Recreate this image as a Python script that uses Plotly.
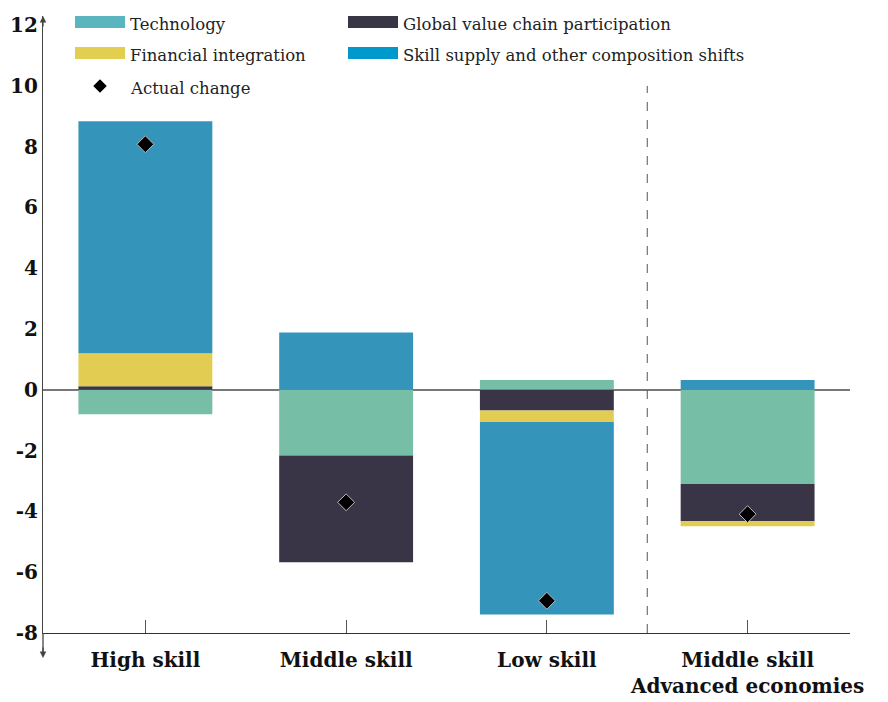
import plotly.graph_objects as go

# ---- data ----
categories = ["High skill", "Middle skill", "Low skill", "Middle skill<br>Advanced economies"]
technology = [-0.80, -2.16, 0.32, -3.10]
gvc_participation = [0.12, -3.51, -0.68, -1.22]
financial_integration = [1.08, 0.0, -0.38, -0.17]
skill_supply = [7.64, 1.89, -6.33, 0.32]
actual_change = [8.08, -3.70, -6.94, -4.09]
y_ticks = [-8, -6, -4, -2, 0, 2, 4, 6, 8, 10, 12]

series_names = ["Technology", "Global value chain participation",
                "Financial integration", "Skill supply and other composition shifts"]
bar_colors = ["#76BEA6", "#393546", "#E2CD52", "#3594BA"]
legend_colors = ["#5BB5BF", "#383544", "#E2CE50", "#0099CC"]

FONT = "DejaVu Serif"
W, H = 888, 702
ML, MR, MT, MB = 43, 38, 16, 69
PW, PH = W - ML - MR, H - MT - MB

def px_x(p):
    return (p - ML) / PW

def px_y(p):
    return (H - MB - p) / PH

x = list(range(len(categories)))
fig = go.Figure()
for name, vals, col in zip(series_names, [technology, gvc_participation, financial_integration, skill_supply], bar_colors):
    fig.add_trace(go.Bar(x=x, y=vals, name=name, marker=dict(color=col, line=dict(width=0)),
                         width=0.667, showlegend=False))
fig.add_trace(go.Scatter(x=x, y=actual_change, mode="markers", name="Actual change",
                         marker=dict(symbol="diamond", size=13, color="black",
                                     line=dict(color="#BBBBBB", width=1)),
                         showlegend=False))

shapes = []
annotations = []
# dashed separator
shapes.append(dict(type="line", xref="x", yref="y", x0=2.5, x1=2.5, y0=-8, y1=10,
                   line=dict(color="#555555", width=1, dash="dash")))
# y axis extension below plot and arrows
shapes.append(dict(type="line", xref="paper", yref="paper", x0=0, x1=0, y0=px_y(655), y1=0,
                   line=dict(color="#444444", width=1.3)))
annotations.append(dict(xref="paper", yref="paper", x=0, y=px_y(658), ax=0, ay=-12,
                        showarrow=True, arrowhead=2, arrowsize=1, arrowwidth=1.3,
                        arrowcolor="#444444", text=""))
annotations.append(dict(xref="paper", yref="paper", x=0, y=px_y(16), ax=0, ay=12,
                        showarrow=True, arrowhead=2, arrowsize=1, arrowwidth=1.3,
                        arrowcolor="#444444", text=""))

# manual legend
legend_items = [
    (series_names[0], legend_colors[0], 75, 22),
    (series_names[1], legend_colors[1], 348, 22),
    (series_names[2], legend_colors[2], 75, 53),
    (series_names[3], legend_colors[3], 348, 53),
]
for name, col, lx, ly in legend_items:
    shapes.append(dict(type="rect", xref="paper", yref="paper",
                       x0=px_x(lx), x1=px_x(lx + 50), y0=px_y(ly + 6), y1=px_y(ly - 6),
                       fillcolor=col, line=dict(width=0)))
    annotations.append(dict(xref="paper", yref="paper", x=px_x(lx + 53), y=px_y(ly + 2),
                            text=name, showarrow=False, xanchor="left", yanchor="middle",
                            font=dict(family=FONT, size=16.5, color="#222222")))
# diamond legend
cx, cy, r = 100, 86, 7
shapes.append(dict(type="path", xref="paper", yref="paper",
                   path=f"M {px_x(cx-r)} {px_y(cy)} L {px_x(cx)} {px_y(cy-r)} L {px_x(cx+r)} {px_y(cy)} L {px_x(cx)} {px_y(cy+r)} Z",
                   fillcolor="black", line=dict(color="#BBBBBB", width=1)))
annotations.append(dict(xref="paper", yref="paper", x=px_x(128), y=px_y(88),
                        text="Actual change", showarrow=False, xanchor="left", yanchor="middle",
                        font=dict(family=FONT, size=16.5, color="#222222")))

fig.update_layout(
    width=W, height=H,
    margin=dict(l=ML, r=MR, t=MT, b=MB, autoexpand=False),
    barmode="relative",
    plot_bgcolor="white", paper_bgcolor="white",
    shapes=shapes, annotations=annotations,
    xaxis=dict(range=[-0.51, 3.51], tickvals=x, ticktext=[f"<b>{c}</b>" for c in categories],
               showline=True, linecolor="#333333", linewidth=1.3, automargin=False,
               ticks="inside", ticklen=13, tickcolor="#555555", tickwidth=1.3,
               ticklabelstandoff=9,
               showgrid=False, zeroline=False,
               tickfont=dict(family=FONT, size=20, color="#111111")),
    yaxis=dict(range=[-8, 12.3], tickvals=y_ticks, ticktext=[f"<b>{v}</b>" for v in y_ticks],
               showline=True, linecolor="#444444", linewidth=1.3, ticks="", automargin=False,
               showgrid=False, zeroline=True, zerolinecolor="#777777", zerolinewidth=1.5,
               tickfont=dict(family=FONT, size=20, color="#111111")),
)

fig.write_html("out.html", config={"displayModeBar": False},
               post_script="document.body.style.margin='0px';document.body.style.overflow='hidden';")
